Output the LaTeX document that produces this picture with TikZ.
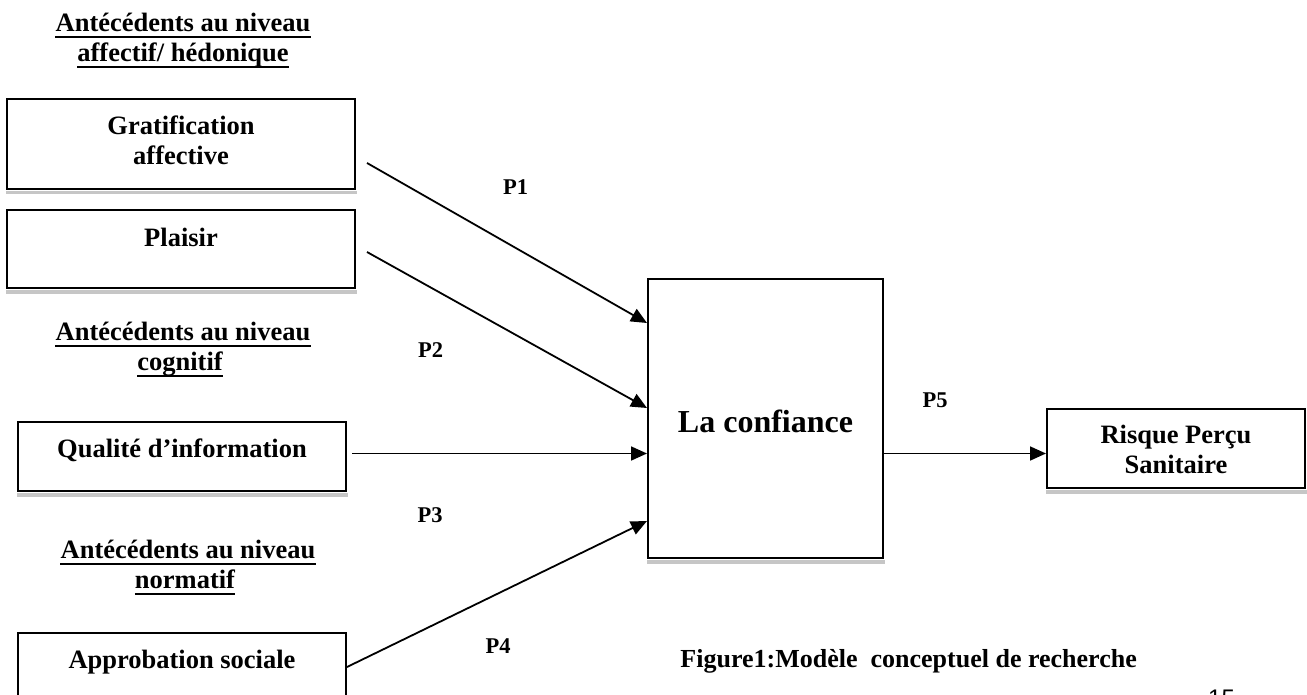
\documentclass[tikz,border=0pt]{standalone}
\usepackage{fontspec}
\setmainfont{Liberation Serif}
\newfontfamily\arialf{Liberation Sans}
\usetikzlibrary{arrows.meta}
\begin{document}
\begin{tikzpicture}[x=1pt,y=-1pt,
  box/.style={draw, line width=2pt, inner sep=0pt},
  lbl/.style={font=\bfseries\fontsize{26.5}{30}\selectfont, inner sep=0pt, anchor=base},
  big/.style={font=\bfseries\fontsize{32}{36}\selectfont, inner sep=0pt, anchor=base},
  plab/.style={font=\bfseries\fontsize{22.5}{26}\selectfont, inner sep=0pt, anchor=base},
  arr/.style={line width=1.8pt, -{Triangle[length=16pt,width=14pt]}},
  ul/.style={line width=2pt},
  shade/.style={fill=gray!45, draw=none}]
\useasboundingbox (0,0) rectangle (1307,695);
\clip (0,0) rectangle (1307,695);

% boxes
\node[box, minimum width=348pt, minimum height=90pt] (grat) at (181,144) {};
\node[box, minimum width=348pt, minimum height=78pt] (plai) at (181,249) {};
\node[box, minimum width=328pt, minimum height=69pt] (qual) at (182,456.5) {};
\node[box, minimum width=328pt, minimum height=87pt] (appr) at (182,676.5) {};
\node[box, minimum width=235pt, minimum height=279pt] (conf) at (765.5,418.5) {};
\node[box, minimum width=258pt, minimum height=79pt] (risk) at (1176,448.5) {};

% shadows
\foreach \n in {grat,plai,qual,conf,risk}
  \fill[shade] ([yshift=-1.2pt]\n.south west) rectangle ([xshift=1pt,yshift=-4.5pt]\n.south east);

% box texts
\node[lbl] (gratA) at (181,135) {Gratification};
\node[lbl] (gratB) at (181,165) {affective};
\node[lbl] (plaiT) at (181,247) {Plaisir};
\node[lbl] (qualT) at (182,457) {Qualité d’information};
\node[lbl] (apprT) at (182,668) {Approbation sociale};
\node[big] (confT) at (765.5,432) {La confiance};
\node[lbl] (riskA) at (1176,443) {Risque Perçu};
\node[lbl] (riskB) at (1176,473) {Sanitaire};

% headings
\node[lbl] (h1a) at (183,32) {Antécédents au niveau};
\node[lbl] (h1b) at (183,62) {affectif/ hédonique};
\node[lbl] (h2a) at (183,340) {Antécédents au niveau};
\node[lbl] (h2b) at (180,370) {cognitif};
\node[lbl] (h3a) at (188,558) {Antécédents au niveau};
\node[lbl] (h3b) at (185,588) {normatif};
\foreach \n in {h1a,h1b,h2a,h2b,h3a,h3b}
  \draw[ul] ([yshift=-5.5pt]\n.base west) -- ([yshift=-5.5pt]\n.base east);

% connectors
\draw[arr] ([xshift=11pt,yshift=-19pt]grat.east) -- ([yshift=95.5pt]conf.west);
\draw[arr] ([xshift=11pt,yshift=-3pt]plai.east) -- ([yshift=10.5pt]conf.west);
\draw[arr] ([xshift=5pt,yshift=3pt]qual.east) -- ([yshift=-35pt]conf.west);
\draw[arr] ([yshift=9.5pt]appr.east) -- ([yshift=-102.5pt]conf.west);
\draw[arr] ([yshift=-35pt]conf.east) -- ([yshift=-5pt]risk.west);

% path labels
\node[plab] (p1) at (515.5,195) {P1};
\node[plab] (p2) at (430.5,357) {P2};
\node[plab] (p3) at (430,522) {P3};
\node[plab] (p4) at (498,653) {P4};
\node[plab] (p5) at (935,407) {P5};

% caption and page number
\node[font=\bfseries\fontsize{26}{30}\selectfont, inner sep=0pt, anchor=base east] (cap) at (1137,667) {Figure1:Modèle\ \ conceptuel de recherche};
\node[font=\arialf\fontsize{24}{28}\selectfont, inner sep=0pt, anchor=base west] (pg) at (1208,706) {15};
\end{tikzpicture}
\end{document}
